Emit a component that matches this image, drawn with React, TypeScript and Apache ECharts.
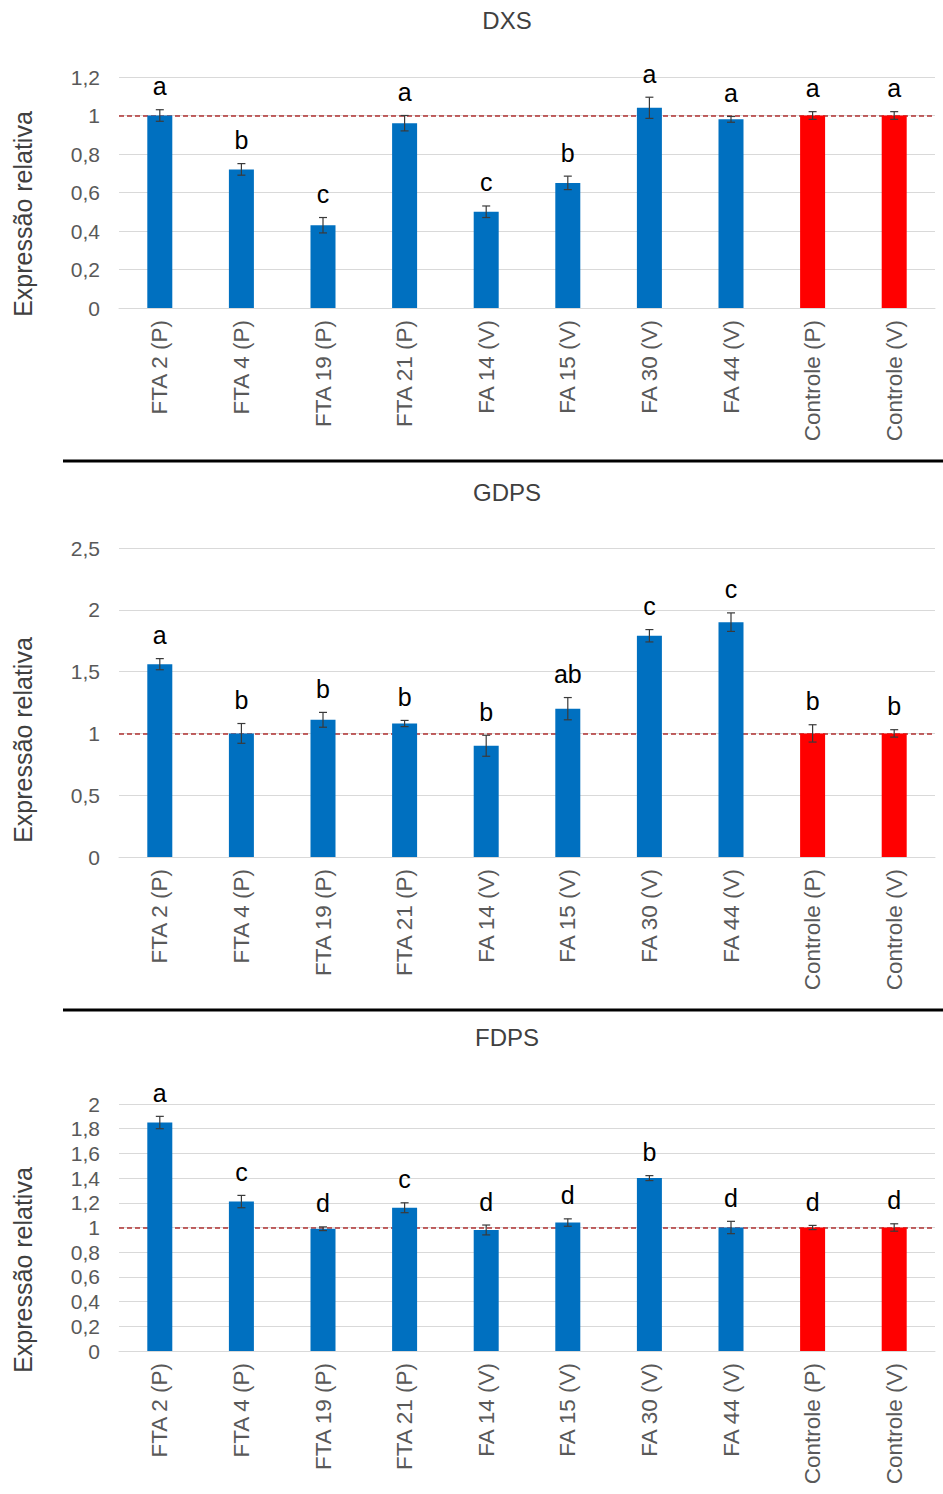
import React, { useEffect, useRef } from "react";
import * as echarts from "echarts";

const categories = [
  "FTA 2 (P)", "FTA 4 (P)", "FTA 19 (P)", "FTA 21 (P)", "FA 14 (V)",
  "FA 15 (V)", "FA 30 (V)", "FA 44 (V)", "Controle (P)", "Controle (V)",
];

const dxsValues = [1.0, 0.72, 0.43, 0.96, 0.5, 0.65, 1.04, 0.98, 1.0, 1.0];
const dxsErrors = [0.03, 0.03, 0.04, 0.04, 0.03, 0.035, 0.055, 0.015, 0.02, 0.02];
const dxsLetters = ["a", "b", "c", "a", "c", "b", "a", "a", "a", "a"];

const gdpsValues = [1.56, 1.0, 1.11, 1.08, 0.9, 1.2, 1.79, 1.9, 1.0, 1.0];
const gdpsErrors = [0.045, 0.08, 0.06, 0.025, 0.085, 0.09, 0.05, 0.075, 0.07, 0.03];
const gdpsLetters = ["a", "b", "b", "b", "b", "ab", "c", "c", "b", "b"];

const fdpsValues = [1.85, 1.21, 0.99, 1.16, 0.98, 1.04, 1.4, 1.0, 1.0, 1.0];
const fdpsErrors = [0.05, 0.05, 0.015, 0.04, 0.04, 0.03, 0.02, 0.05, 0.017, 0.03];
const fdpsLetters = ["a", "c", "d", "c", "d", "d", "b", "d", "d", "d"];

const panelTitles = ["DXS", "GDPS", "FDPS"];
const axisMax = [1.2, 2.5, 2];
const axisInterval = [0.2, 0.5, 0.2];
const referenceLevel = 1;
const yAxisName = "Expressão relativa";

const FONT = "'Liberation Sans', Arial, sans-serif";
const BLUE = "#0070C0";
const RED = "#FF0000";
const CONTROL_COUNT = 2;

export default function App() {
  const ref = useRef<HTMLDivElement>(null);

  useEffect(() => {
    if (!ref.current) return;
    const chart = echarts.init(ref.current, undefined, { renderer: "svg" });

    const panels = [
      { values: dxsValues, errors: dxsErrors, letters: dxsLetters },
      { values: gdpsValues, errors: gdpsErrors, letters: gdpsLetters },
      { values: fdpsValues, errors: fdpsErrors, letters: fdpsLetters },
    ];

    const gridTops = [77, 548, 1104];
    const gridHeights = [231, 309, 247];
    const titleYs = [20, 492, 1037];
    const nameYs = [214, 740, 1270];

    const grids = gridTops.map((t, i) => ({
      left: 119,
      width: 816,
      top: t,
      height: gridHeights[i],
    }));

    const xAxes = panels.map((_, i) => ({
      type: "category",
      gridIndex: i,
      data: categories,
      axisLine: { lineStyle: { color: "#d9d9d9", width: 1 } },
      axisTick: { show: false },
      axisLabel: {
        rotate: 90,
        interval: 0,
        margin: 12,
        color: "#595959",
        fontSize: 22.5,
        fontFamily: FONT,
      },
    }));

    const yAxes = panels.map((_, i) => ({
      type: "value",
      gridIndex: i,
      min: 0,
      max: axisMax[i],
      interval: axisInterval[i],
      axisLine: { show: false },
      axisTick: { show: false },
      splitLine: { lineStyle: { color: "#d9d9d9", width: 1 } },
      axisLabel: {
        margin: 19,
        color: "#595959",
        fontSize: 21,
        fontFamily: FONT,
        formatter: (v: number) => String(+v.toFixed(1)).replace(".", ","),
      },
    }));

    const series: any[] = [];
    panels.forEach((p, i) => {
      series.push({
        type: "bar",
        xAxisIndex: i,
        yAxisIndex: i,
        barWidth: 25,
        z: 2,
        data: p.values.map((v, k) => ({
          value: v,
          itemStyle: { color: k >= categories.length - CONTROL_COUNT ? RED : BLUE },
        })),
        markLine: {
          silent: true,
          symbol: "none",
          z: 1,
          label: { show: false },
          lineStyle: { color: "#b03030", type: [5, 3], width: 1.5 },
          data: [{ yAxis: referenceLevel }],
        },
      });
      series.push({
        type: "custom",
        xAxisIndex: i,
        yAxisIndex: i,
        z: 3,
        clip: false,
        encode: { x: 0, y: 1 },
        data: p.values.map((v, k) => [k, v, p.errors[k]]),
        renderItem: (params: any, api: any) => {
          const idx = api.value(0);
          const v = api.value(1);
          const e = api.value(2);
          const top = api.coord([idx, v + e]);
          const bot = api.coord([idx, v - e]);
          const cx = top[0];
          const stroke = { stroke: "#3a3a3a", lineWidth: 1.2 };
          return {
            type: "group",
            children: [
              { type: "line", shape: { x1: cx, y1: top[1], x2: cx, y2: bot[1] }, style: stroke },
              { type: "line", shape: { x1: cx - 4, y1: top[1], x2: cx + 4, y2: top[1] }, style: stroke },
              { type: "line", shape: { x1: cx - 4, y1: bot[1], x2: cx + 4, y2: bot[1] }, style: stroke },
              {
                type: "text",
                x: cx,
                y: top[1] - 11,
                style: {
                  text: p.letters[params.dataIndex],
                  fill: "#000",
                  font: `25px ${FONT}`,
                  textAlign: "center",
                  textVerticalAlign: "bottom",
                },
              },
            ],
          };
        },
      });
    });

    const graphics: any[] = [];
    panelTitles.forEach((t, i) => {
      graphics.push({
        type: "text",
        x: 507,
        y: titleYs[i],
        style: {
          text: t,
          fill: "#404040",
          font: `24px ${FONT}`,
          textAlign: "center",
          textVerticalAlign: "middle",
        },
      });
      graphics.push({
        type: "text",
        x: 23,
        y: nameYs[i],
        rotation: Math.PI / 2,
        style: {
          text: yAxisName,
          fill: "#404040",
          font: `25px ${FONT}`,
          textAlign: "center",
          textVerticalAlign: "middle",
        },
      });
    });
    [461, 1010].forEach((y) => {
      graphics.push({
        type: "line",
        shape: { x1: 63, y1: y, x2: 943, y2: y },
        style: { stroke: "#000", lineWidth: 3 },
      });
    });

    chart.setOption({
      animation: false,
      backgroundColor: "#ffffff",
      grid: grids,
      xAxis: xAxes,
      yAxis: yAxes,
      series,
      graphic: graphics,
    });

    return () => chart.dispose();
  }, []);

  return (
    <div
      ref={ref}
      style={{ position: "absolute", left: 0, top: 0, width: 943, height: 1494 }}
    />
  );
}
